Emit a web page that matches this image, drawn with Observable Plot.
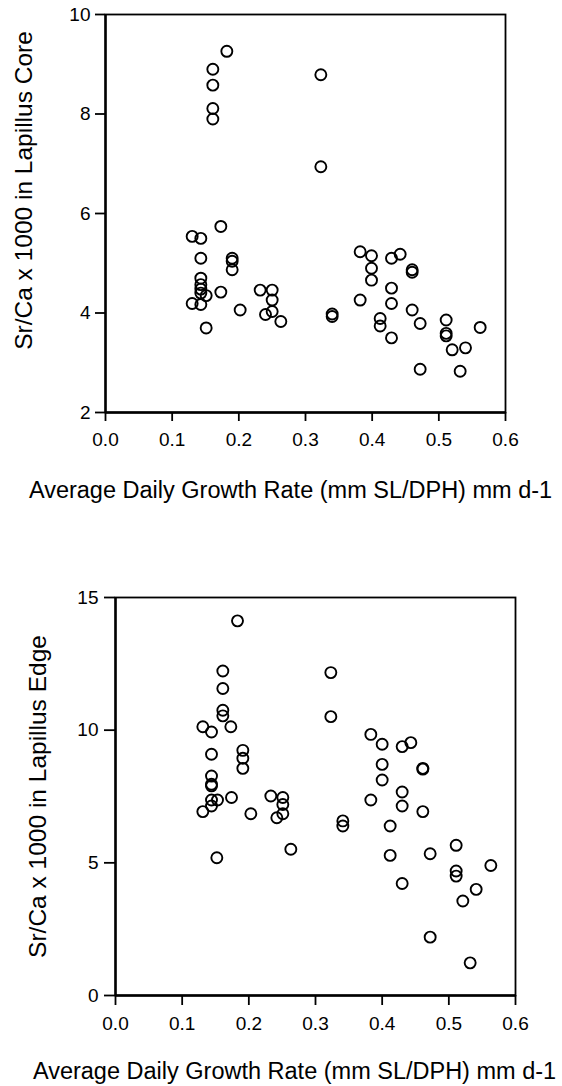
<!DOCTYPE html>
<html>
<head>
<meta charset="utf-8">
<script src="https://cdn.jsdelivr.net/npm/d3@7"></script>
<script src="https://cdn.jsdelivr.net/npm/@observablehq/plot@0.6"></script>
<style>
  html, body { margin: 0; padding: 0; background: #fff; }
  #wrap { width: 562px; height: 1086px; position: relative; overflow: hidden; background: #fff; }
  #wrap svg { display: block; }
</style>
</head>
<body>
<div id="wrap"></div>
<script>
// ---- data ----
const xTitle = "Average Daily Growth Rate (mm SL/DPH) mm d-1";
const coreTitle = "Sr/Ca x 1000 in Lapillus Core";
const edgeTitle = "Sr/Ca x 1000 in Lapillus Edge";

const xTicks = [0, 0.1, 0.2, 0.3, 0.4, 0.5, 0.6];
const coreTicks = [2, 4, 6, 8, 10];
const edgeTicks = [0, 5, 10, 15];

const coreX = [0.182,0.161,0.161,0.161,0.161,0.323,0.323,0.173,0.130,0.143,0.143,0.190,0.190,0.190,0.143,0.143,0.143,0.143,0.151,0.173,0.130,0.143,0.151,0.202,0.232,0.250,0.250,0.240,0.250,0.263,0.340,0.340,0.382,0.399,0.399,0.399,0.382,0.429,0.442,0.460,0.460,0.429,0.429,0.460,0.412,0.412,0.429,0.472,0.472,0.511,0.511,0.511,0.520,0.540,0.532,0.562];
const coreY = [9.26,8.90,8.58,8.11,7.90,8.79,6.94,5.74,5.54,5.50,5.10,5.10,5.04,4.87,4.70,4.57,4.48,4.40,4.35,4.42,4.19,4.17,3.70,4.06,4.46,4.46,4.26,3.97,4.03,3.83,3.98,3.93,5.23,5.15,4.90,4.66,4.26,5.10,5.18,4.87,4.82,4.50,4.19,4.06,3.89,3.74,3.50,3.79,2.87,3.86,3.59,3.54,3.26,3.30,2.83,3.71];

const edgeX = [0.183,0.161,0.161,0.161,0.161,0.173,0.131,0.144,0.144,0.144,0.144,0.144,0.144,0.144,0.153,0.131,0.174,0.191,0.191,0.191,0.203,0.152,0.233,0.251,0.251,0.251,0.242,0.263,0.323,0.323,0.341,0.341,0.383,0.400,0.400,0.400,0.383,0.430,0.443,0.461,0.461,0.430,0.430,0.412,0.412,0.461,0.430,0.472,0.472,0.511,0.511,0.511,0.541,0.521,0.532,0.563];
const edgeY = [14.12,12.23,11.57,10.75,10.54,10.13,10.13,9.93,9.09,8.27,7.96,7.90,7.37,7.14,7.37,6.93,7.46,9.24,8.94,8.56,6.85,5.19,7.52,7.46,7.20,6.85,6.70,5.51,12.17,10.51,6.58,6.39,9.84,9.47,8.71,8.12,7.37,9.38,9.53,8.56,8.53,7.67,7.14,6.39,5.28,6.93,4.22,5.34,2.20,5.66,4.69,4.50,4.00,3.56,1.23,4.90];

const core = coreX.map((x, i) => ({x, y: coreY[i]}));
const edge = edgeX.map((x, i) => ({x, y: edgeY[i]}));

const font = "'Liberation Sans', Arial, Helvetica, sans-serif";
const tickFont = 19;

function panel(opts) {
  const {data, yDomain, yTicks, yTitle, height, mt, mb, ml, mr,
         ytick, ypad, xtick, xpad, ytdx, ytdy, xtdx, xtdy} = opts;
  return Plot.plot({
    width: 562,
    height,
    marginTop: mt, marginBottom: mb, marginLeft: ml, marginRight: mr,
    style: {fontFamily: font, fontSize: "19px", background: "#fff", color: "#000", overflow: "visible"},
    x: {domain: [0, 0.6]},
    y: {domain: yDomain},
    marks: [
      Plot.frame({stroke: "#000", strokeWidth: 1.8}),
      Plot.ruleX([0], {stroke: "#000", strokeWidth: 2.4}),
      Plot.ruleY([yDomain[0]], {stroke: "#000", strokeWidth: 2.4}),
      Plot.axisX({ticks: xTicks, tickFormat: d => d.toFixed(1), tickSize: xtick, tickPadding: xpad, label: null, strokeWidth: 1.8, fill: "#000", fontSize: tickFont}),
      Plot.axisY({ticks: yTicks, tickFormat: d => String(d), tickSize: ytick, tickPadding: ypad, label: null, strokeWidth: 1.8, fill: "#000", fontSize: tickFont}),
      Plot.dot(data, {x: "x", y: "y", r: 5.5, stroke: "#000", strokeWidth: 1.9, fill: "none"}),
      Plot.text([yTitle], {text: d => d, frameAnchor: "left", rotate: -90, dx: ytdx, dy: ytdy, fontSize: 24.5, fill: "#000", textAnchor: "middle", lineAnchor: "middle"}),
      Plot.text([xTitle], {text: d => d, frameAnchor: "bottom", dx: xtdx, dy: xtdy, fontSize: 23.5, fill: "#000", textAnchor: "middle", lineAnchor: "middle"})
    ]
  });
}

const wrap = document.getElementById("wrap");
wrap.appendChild(panel({
  data: core, yDomain: [2, 10], yTicks: coreTicks, yTitle: coreTitle,
  height: 540, mt: 14, mb: 128, ml: 105, mr: 57,
  ytick: 10, ypad: 5, xtick: 9, xpad: 11,
  ytdx: -81, ytdy: -23, xtdx: -15, xtdy: 78
}));
wrap.appendChild(panel({
  data: edge, yDomain: [0, 15], yTicks: edgeTicks, yTitle: edgeTitle,
  height: 546, mt: 57, mb: 91, ml: 115, mr: 47,
  ytick: 11, ypad: 6, xtick: 10, xpad: 11,
  ytdx: -77, ytdy: 0, xtdx: -21, xtdy: 76
}));
</script>
</body>
</html>
